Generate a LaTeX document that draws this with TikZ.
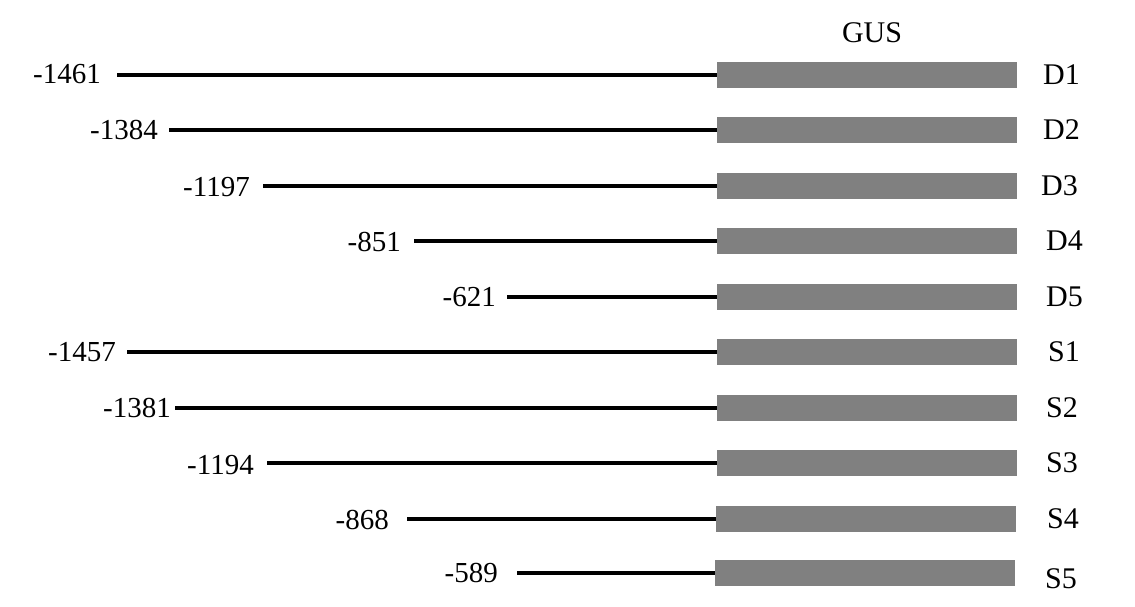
\documentclass[tikz,border=0pt]{standalone}
\usepackage{fontspec}
\setmainfont{Liberation Serif}
\definecolor{gusgray}{RGB}{128,128,128}

\begin{document}
\begin{tikzpicture}[x=1pt, y=-1pt]
    \tikzset{
        gusbar/.style={rectangle, fill=gusgray, minimum width=300pt, minimum height=26pt, inner sep=0pt, anchor=west},
        poslbl/.style={font=\fontsize{29}{31}\selectfont, inner sep=0pt, anchor=east},
        tag/.style={font=\fontsize{30}{32}\selectfont, inner sep=0pt, anchor=west},
        promoter/.style={line width=4pt}
    }
    \useasboundingbox (0,0) rectangle (1135,606);
    \node[font=\fontsize{30}{32}\selectfont, inner sep=0pt] (gus) at (872,33) {GUS};
    % deletion series
    \node[gusbar] (d1) at (717,75) {};
    \node[gusbar] (d2) at (717,130) {};
    \node[gusbar] (d3) at (717,186) {};
    \node[gusbar] (d4) at (717,241) {};
    \node[gusbar] (d5) at (717,297) {};
    \coordinate (pd1) at (117,75);
    \coordinate (pd2) at (169,130);
    \coordinate (pd3) at (263,186);
    \coordinate (pd4) at (414,241);
    \coordinate (pd5) at (507,297);
    \node[poslbl] (nd1) at (101,74) {-1461};
    \node[poslbl] (nd2) at (158,130) {-1384};
    \node[poslbl] (nd3) at (250,187) {-1197};
    \node[poslbl] (nd4) at (401,242) {-851};
    \node[poslbl] (nd5) at (496,297) {-621};
    \node[tag] (ld1) at (1043,75) {D1};
    \node[tag] (ld2) at (1043,130) {D2};
    \node[tag] (ld3) at (1041,186) {D3};
    \node[tag] (ld4) at (1046,241) {D4};
    \node[tag] (ld5) at (1046,297) {D5};
    \draw[promoter] (pd1) -- (d1.west);
    \draw[promoter] (pd2) -- (d2.west);
    \draw[promoter] (pd3) -- (d3.west);
    \draw[promoter] (pd4) -- (d4.west);
    \draw[promoter] (pd5) -- (d5.west);
    % second series
    \node[gusbar] (s1) at (717,352) {};
    \node[gusbar] (s2) at (717,408) {};
    \node[gusbar] (s3) at (717,463) {};
    \node[gusbar] (s4) at (716,519) {};
    \node[gusbar] (s5) at (715,573) {};
    \coordinate (ps1) at (127,352);
    \coordinate (ps2) at (175,408);
    \coordinate (ps3) at (267,463);
    \coordinate (ps4) at (407,519);
    \coordinate (ps5) at (517,573);
    \node[poslbl] (ns1) at (116,352) {-1457};
    \node[poslbl] (ns2) at (171,408) {-1381};
    \node[poslbl] (ns3) at (254,465) {-1194};
    \node[poslbl] (ns4) at (389,520) {-868};
    \node[poslbl] (ns5) at (498,573) {-589};
    \node[tag] (ls1) at (1048,352) {S1};
    \node[tag] (ls2) at (1046,408) {S2};
    \node[tag] (ls3) at (1046,463) {S3};
    \node[tag] (ls4) at (1047,519) {S4};
    \node[tag] (ls5) at (1045,579) {S5};
    \draw[promoter] (ps1) -- (s1.west);
    \draw[promoter] (ps2) -- (s2.west);
    \draw[promoter] (ps3) -- (s3.west);
    \draw[promoter] (ps4) -- (s4.west);
    \draw[promoter] (ps5) -- (s5.west);
\end{tikzpicture}
\end{document}
